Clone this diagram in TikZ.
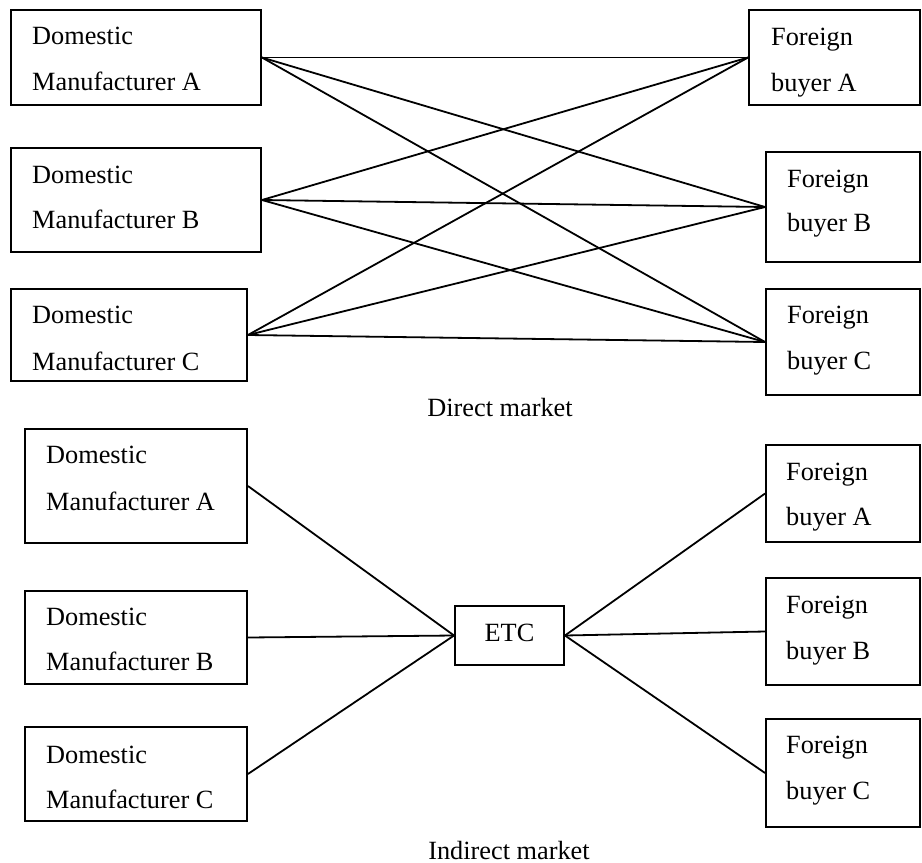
\documentclass[tikz,border=0pt]{standalone}
\usepackage{fontspec}
\setmainfont{Liberation Serif}
\begin{document}
\begin{tikzpicture}[x=1pt,y=-1pt,
  box/.style={draw,line width=1.9pt,rectangle,inner sep=0pt},
  txt/.style={anchor=base west,inner sep=0pt,font=\fontsize{26.3}{31}\selectfont},
  ctxt/.style={anchor=base,inner sep=0pt,font=\fontsize{26.3}{31}\selectfont},
  link/.style={line width=1.8pt}]
\useasboundingbox (0,0) rectangle (922,863);
% ---- Direct market ----
\node[box,minimum width=250pt,minimum height=95pt] (dA) at (136,57.5) {};
\node[box,minimum width=250pt,minimum height=104pt] (dB) at (136,200) {};
\node[box,minimum width=236pt,minimum height=92pt] (dC) at (129,335) {};
\node[box,minimum width=171pt,minimum height=95pt] (fA) at (834.5,57.5) {};
\node[box,minimum width=154pt,minimum height=110pt] (fB) at (843,207) {};
\node[box,minimum width=154pt,minimum height=106pt] (fC) at (843,342) {};
\node[txt] (dA1) at (32,44) {Domestic};
\node[txt] (dA2) at (32,90) {Manufacturer A};
\node[txt] (dB1) at (32,183) {Domestic};
\node[txt] (dB2) at (32,228) {Manufacturer B};
\node[txt] (dC1) at (32,323) {Domestic};
\node[txt] (dC2) at (32,370) {Manufacturer C};
\node[txt] (fA1) at (771,45) {Foreign};
\node[txt] (fA2) at (771,91) {buyer A};
\node[txt] (fB1) at (787,187) {Foreign};
\node[txt] (fB2) at (787,231) {buyer B};
\node[txt] (fC1) at (787,323) {Foreign};
\node[txt] (fC2) at (787,369) {buyer C};
\foreach \d in {dA,dB,dC}{
  \foreach \f in {fA,fB,fC}{
    \draw[link] (\d.east) -- (\f.west);
  }
}
\node[ctxt] (direct) at (500,416) {Direct market};
% ---- Indirect market ----
\node[box,minimum width=222pt,minimum height=114pt] (iA) at (136,486) {};
\node[box,minimum width=222pt,minimum height=93pt] (iB) at (136,637.5) {};
\node[box,minimum width=222pt,minimum height=94pt] (iC) at (136,774) {};
\node[box,minimum width=109pt,minimum height=59pt] (etc) at (509.5,635.5) {};
\node[box,minimum width=154pt,minimum height=97pt] (jA) at (843,493.5) {};
\node[box,minimum width=154pt,minimum height=107pt] (jB) at (843,631.5) {};
\node[box,minimum width=154pt,minimum height=108pt] (jC) at (843,773) {};
\node[txt] (iA1) at (46,463) {Domestic};
\node[txt] (iA2) at (46,510) {Manufacturer A};
\node[txt] (iB1) at (46,625) {Domestic};
\node[txt] (iB2) at (46,670) {Manufacturer B};
\node[txt] (iC1) at (46,763) {Domestic};
\node[txt] (iC2) at (46,808) {Manufacturer C};
\node[ctxt] (etct) at (509.5,641) {ETC};
\node[txt] (jA1) at (786,480) {Foreign};
\node[txt] (jA2) at (786,525) {buyer A};
\node[txt] (jB1) at (786,613) {Foreign};
\node[txt] (jB2) at (786,659) {buyer B};
\node[txt] (jC1) at (786,753) {Foreign};
\node[txt] (jC2) at (786,799) {buyer C};
\foreach \d in {iA,iB,iC}{ \draw[link] (\d.east) -- (etc.west); }
\foreach \f in {jA,jB,jC}{ \draw[link] (etc.east) -- (\f.west); }
\node[ctxt] (indirect) at (509,859) {Indirect market};
\end{tikzpicture}
\end{document}
